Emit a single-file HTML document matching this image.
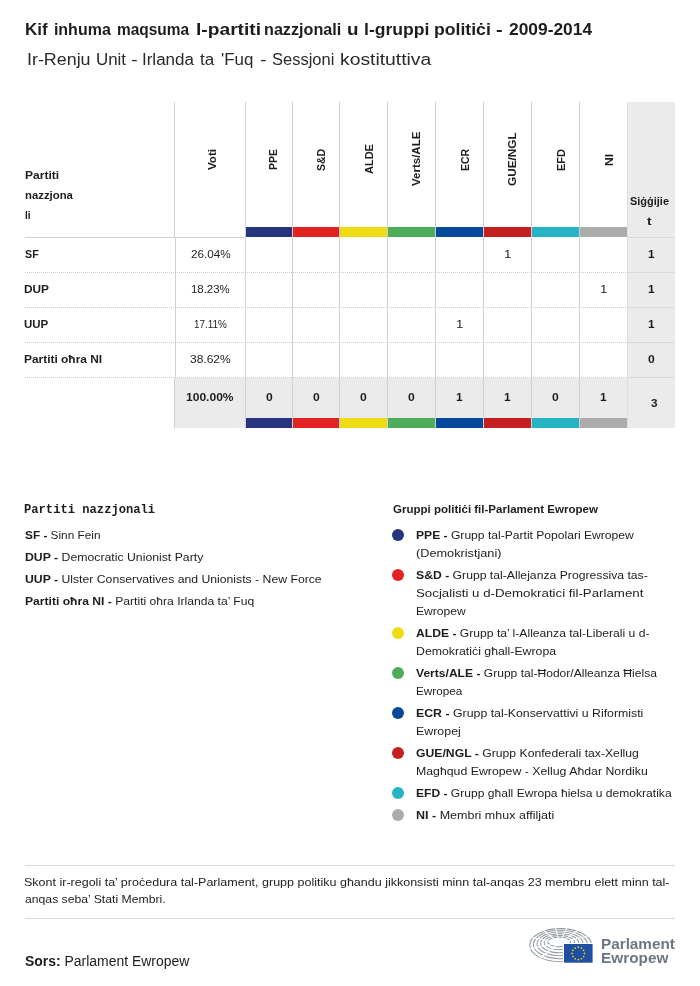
<!DOCTYPE html>
<html><head><meta charset="utf-8"><title>Parlament Ewropew</title>
<style>
html,body{margin:0;padding:0;background:#fff;}
body{width:700px;height:986px;position:relative;overflow:hidden;font-family:"Liberation Sans",sans-serif;color:#1d1d1b;}
.a{position:absolute;white-space:nowrap;}
.t{position:absolute;white-space:nowrap;line-height:20px;transform-origin:0 0;}
.vl{position:absolute;width:1px;background:#d2d2d2;}
.hl{position:absolute;height:1px;background:#d2d2d2;}
.dl{position:absolute;height:1px;background-image:linear-gradient(to right,#c9c9c9 50%,rgba(255,255,255,0) 50%);background-size:2px 1px;}
.dot{position:absolute;width:12px;height:12px;border-radius:50%;}
#w{position:absolute;left:0;top:0;width:700px;height:986px;will-change:transform;}
</style></head><body><div id="w">
<div class="a" style="left:627px;top:102px;width:48px;height:326px;background:#ebebeb;"></div>
<div class="a" style="left:174px;top:378px;width:453px;height:50px;background:#ebebeb;"></div>
<div class="vl" style="left:174px;top:102px;height:136px;"></div>
<div class="vl" style="left:175px;top:238px;height:140px;"></div>
<div class="vl" style="left:174px;top:378px;height:50px;"></div>
<div class="vl" style="left:245px;top:102px;height:326px;"></div>
<div class="vl" style="left:292px;top:102px;height:326px;"></div>
<div class="vl" style="left:339px;top:102px;height:326px;"></div>
<div class="vl" style="left:387px;top:102px;height:326px;"></div>
<div class="vl" style="left:435px;top:102px;height:326px;"></div>
<div class="vl" style="left:483px;top:102px;height:326px;"></div>
<div class="vl" style="left:531px;top:102px;height:326px;"></div>
<div class="vl" style="left:579px;top:102px;height:326px;"></div>
<div class="vl" style="left:627px;top:102px;height:326px;background:#dedede;"></div>
<div class="hl" style="left:25px;top:237px;width:221px;"></div>
<div class="hl" style="left:627px;top:237px;width:48px;background:#d8d8d8;"></div>
<div class="dl" style="left:25px;top:272px;width:602px;"></div>
<div class="hl" style="left:627px;top:272px;width:48px;background:#d8d8d8;"></div>
<div class="dl" style="left:25px;top:307px;width:602px;"></div>
<div class="hl" style="left:627px;top:307px;width:48px;background:#d8d8d8;"></div>
<div class="dl" style="left:25px;top:342px;width:602px;"></div>
<div class="hl" style="left:627px;top:342px;width:48px;background:#d8d8d8;"></div>
<div class="dl" style="left:25px;top:377px;width:602px;"></div>
<div class="hl" style="left:627px;top:377px;width:48px;background:#d8d8d8;"></div>
<div class="a" style="left:246px;top:227px;width:46px;height:10px;background:#27347f;"></div>
<div class="a" style="left:246px;top:418px;width:46px;height:10px;background:#27347f;"></div>
<div class="a" style="left:293px;top:227px;width:46px;height:10px;background:#e32322;"></div>
<div class="a" style="left:293px;top:418px;width:46px;height:10px;background:#e32322;"></div>
<div class="a" style="left:340px;top:227px;width:47px;height:10px;background:#f0dc14;"></div>
<div class="a" style="left:340px;top:418px;width:47px;height:10px;background:#f0dc14;"></div>
<div class="a" style="left:388px;top:227px;width:47px;height:10px;background:#4ead5b;"></div>
<div class="a" style="left:388px;top:418px;width:47px;height:10px;background:#4ead5b;"></div>
<div class="a" style="left:436px;top:227px;width:47px;height:10px;background:#05489c;"></div>
<div class="a" style="left:436px;top:418px;width:47px;height:10px;background:#05489c;"></div>
<div class="a" style="left:484px;top:227px;width:47px;height:10px;background:#c3201f;"></div>
<div class="a" style="left:484px;top:418px;width:47px;height:10px;background:#c3201f;"></div>
<div class="a" style="left:532px;top:227px;width:47px;height:10px;background:#25b4c5;"></div>
<div class="a" style="left:532px;top:418px;width:47px;height:10px;background:#25b4c5;"></div>
<div class="a" style="left:580px;top:227px;width:47px;height:10px;background:#acacac;"></div>
<div class="a" style="left:580px;top:418px;width:47px;height:10px;background:#acacac;"></div>
<div class="t" style="left:25.24px;top:19.66px;font-size:16px;transform:scaleX(1.0619);font-weight:bold;">Kif</div>
<div class="t" style="left:53.90px;top:19.66px;font-size:16px;transform:scaleX(1.0000);font-weight:bold;">inhuma</div>
<div class="t" style="left:116.74px;top:19.66px;font-size:16px;transform:scaleX(0.9649);font-weight:bold;">maqsuma</div>
<div class="t" style="left:195.50px;top:19.66px;font-size:16px;transform:scaleX(1.2000);font-weight:bold;">l-partiti</div>
<div class="t" style="left:264.09px;top:19.66px;font-size:16px;transform:scaleX(1.0107);font-weight:bold;">nazzjonali</div>
<div class="t" style="left:346.52px;top:19.66px;font-size:16px;transform:scaleX(1.1750);font-weight:bold;">u</div>
<div class="t" style="left:363.80px;top:19.66px;font-size:16px;transform:scaleX(1.0983);font-weight:bold;">l-gruppi</div>
<div class="t" style="left:433.80px;top:19.66px;font-size:16px;transform:scaleX(1.1020);font-weight:bold;">politiċi</div>
<div class="t" style="left:495.85px;top:19.66px;font-size:16px;transform:scaleX(1.2500);font-weight:bold;">-</div>
<div class="t" style="left:508.60px;top:19.66px;font-size:16px;transform:scaleX(1.0857);font-weight:bold;">2009-2014</div>
<div class="t" style="left:27.48px;top:49.86px;font-size:16px;transform:scaleX(1.1164);color:#2a2a2a;">Ir-Renju</div>
<div class="t" style="left:95.54px;top:49.86px;font-size:16px;transform:scaleX(1.0556);color:#2a2a2a;">Unit</div>
<div class="t" style="left:130.75px;top:49.86px;font-size:16px;transform:scaleX(1.2500);color:#2a2a2a;">-</div>
<div class="t" style="left:142.34px;top:49.86px;font-size:16px;transform:scaleX(1.0604);color:#2a2a2a;">Irlanda</div>
<div class="t" style="left:200.00px;top:49.86px;font-size:16px;transform:scaleX(1.0643);color:#2a2a2a;">ta</div>
<div class="t" style="left:221.24px;top:49.86px;font-size:16px;transform:scaleX(1.0552);color:#2a2a2a;">'Fuq</div>
<div class="t" style="left:259.65px;top:49.86px;font-size:16px;transform:scaleX(1.2500);color:#2a2a2a;">-</div>
<div class="t" style="left:271.87px;top:49.86px;font-size:16px;transform:scaleX(1.0305);color:#2a2a2a;">Sessjoni</div>
<div class="t" style="left:339.69px;top:49.86px;font-size:16px;transform:scaleX(1.2067);color:#2a2a2a;">kostituttiva</div>
<div class="t" style="left:24.51px;top:165.19px;font-size:11px;transform:scaleX(1.0933);font-weight:bold;">Partiti</div>
<div class="t" style="left:24.57px;top:185.19px;font-size:11px;transform:scaleX(1.0304);font-weight:bold;">nazzjona</div>
<div class="t" style="left:24.68px;top:205.19px;font-size:11px;transform:scaleX(0.9200);font-weight:bold;">li</div>
<div class="t" style="left:630.30px;top:190.79px;font-size:11px;transform:scaleX(0.9974);font-weight:bold;">Siġġijie</div>
<div class="t" style="left:647.00px;top:210.79px;font-size:11px;transform:scaleX(1.2500);font-weight:bold;">t</div>
<div class="t" style="left:25.30px;top:243.89px;font-size:11px;transform:scaleX(0.9714);font-weight:bold;">SF</div>
<div class="t" style="left:190.90px;top:243.89px;font-size:11px;transform:scaleX(1.0649);">26.04%</div>
<div class="t" style="left:503.80px;top:243.89px;font-size:11px;transform:scaleX(1.2000);">1</div>
<div class="t" style="left:647.52px;top:243.89px;font-size:11px;transform:scaleX(1.0800);font-weight:bold;">1</div>
<div class="t" style="left:24.22px;top:278.89px;font-size:11px;transform:scaleX(1.0773);font-weight:bold;">DUP</div>
<div class="t" style="left:190.96px;top:278.89px;font-size:11px;transform:scaleX(1.0361);">18.23%</div>
<div class="t" style="left:599.80px;top:278.89px;font-size:11px;transform:scaleX(1.2000);">1</div>
<div class="t" style="left:647.52px;top:278.89px;font-size:11px;transform:scaleX(1.0800);font-weight:bold;">1</div>
<div class="t" style="left:24.25px;top:313.89px;font-size:11px;transform:scaleX(1.0455);font-weight:bold;">UUP</div>
<div class="t" style="left:193.90px;top:313.89px;font-size:11px;transform:scaleX(0.9029);">17.11%</div>
<div class="t" style="left:455.80px;top:313.89px;font-size:11px;transform:scaleX(1.2000);">1</div>
<div class="t" style="left:647.52px;top:313.89px;font-size:11px;transform:scaleX(1.0800);font-weight:bold;">1</div>
<div class="t" style="left:24.22px;top:348.89px;font-size:11px;transform:scaleX(1.0831);font-weight:bold;">Partiti oħra NI</div>
<div class="t" style="left:189.91px;top:348.89px;font-size:11px;transform:scaleX(1.0917);">38.62%</div>
<div class="t" style="left:648.00px;top:348.89px;font-size:11px;transform:scaleX(1.1000);font-weight:bold;">0</div>
<div class="t" style="left:185.90px;top:387.49px;font-size:11px;transform:scaleX(1.0952);font-weight:bold;">100.00%</div>
<div class="t" style="left:265.70px;top:387.49px;font-size:11px;transform:scaleX(1.1000);font-weight:bold;">0</div>
<div class="t" style="left:312.70px;top:387.49px;font-size:11px;transform:scaleX(1.1000);font-weight:bold;">0</div>
<div class="t" style="left:360.20px;top:387.49px;font-size:11px;transform:scaleX(1.1000);font-weight:bold;">0</div>
<div class="t" style="left:408.20px;top:387.49px;font-size:11px;transform:scaleX(1.1000);font-weight:bold;">0</div>
<div class="t" style="left:455.72px;top:387.49px;font-size:11px;transform:scaleX(1.0800);font-weight:bold;">1</div>
<div class="t" style="left:503.72px;top:387.49px;font-size:11px;transform:scaleX(1.0800);font-weight:bold;">1</div>
<div class="t" style="left:552.20px;top:387.49px;font-size:11px;transform:scaleX(1.1000);font-weight:bold;">0</div>
<div class="t" style="left:599.72px;top:387.49px;font-size:11px;transform:scaleX(1.0800);font-weight:bold;">1</div>
<div class="t" style="left:651.00px;top:392.59px;font-size:11px;transform:scaleX(1.0667);font-weight:bold;">3</div>
<div class="t" style="left:24.49px;top:499.59px;font-size:12px;transform:scaleX(1.0117);font-weight:bold;font-family:'Liberation Mono',monospace;">Partiti nazzjonali</div>
<div class="t" style="left:24.90px;top:524.83px;font-size:11.3px;transform:scaleX(1.0458);"><b>SF -</b> Sinn Fein</div>
<div class="t" style="left:24.51px;top:546.83px;font-size:11.3px;transform:scaleX(1.0853);"><b>DUP -</b> Democratic Unionist Party</div>
<div class="t" style="left:24.52px;top:568.83px;font-size:11.3px;transform:scaleX(1.0821);"><b>UUP -</b> Ulster Conservatives and Unionists - New Force</div>
<div class="t" style="left:24.53px;top:590.83px;font-size:11.3px;transform:scaleX(1.0726);"><b>Partiti oħra NI -</b> Partiti oħra Irlanda ta’ Fuq</div>
<div class="t" style="left:392.50px;top:499.08px;font-size:11.3px;transform:scaleX(1.0199);font-weight:bold;">Gruppi politiċi fil-Parlament Ewropew</div>
<div class="t" style="left:415.63px;top:524.83px;font-size:11.3px;transform:scaleX(1.0704);"><b>PPE -</b> Grupp tal-Partit Popolari Ewropew</div>
<div class="t" style="left:415.57px;top:542.83px;font-size:11.3px;transform:scaleX(1.1257);">(Demokristjani)</div>
<div class="t" style="left:416.00px;top:564.83px;font-size:11.3px;transform:scaleX(1.0794);"><b>S&amp;D -</b> Grupp tal-Allejanza Progressiva tas-</div>
<div class="t" style="left:415.52px;top:582.83px;font-size:11.3px;transform:scaleX(1.1760);">Socjalisti u d-Demokratici fil-Parlament</div>
<div class="t" style="left:415.63px;top:600.83px;font-size:11.3px;transform:scaleX(1.0717);">Ewropew</div>
<div class="t" style="left:416.00px;top:622.83px;font-size:11.3px;transform:scaleX(1.0737);"><b>ALDE -</b> Grupp ta’ l-Alleanza tal-Liberali u d-</div>
<div class="t" style="left:415.61px;top:640.83px;font-size:11.3px;transform:scaleX(1.0883);">Demokratiċi għall-Ewropa</div>
<div class="t" style="left:416.00px;top:662.83px;font-size:11.3px;transform:scaleX(1.0686);"><b>Verts/ALE -</b> Grupp tal-Ħodor/Alleanza Ħielsa</div>
<div class="t" style="left:415.66px;top:680.83px;font-size:11.3px;transform:scaleX(1.0409);">Ewropea</div>
<div class="t" style="left:415.61px;top:702.83px;font-size:11.3px;transform:scaleX(1.0908);"><b>ECR -</b> Grupp tal-Konservattivi u Riformisti</div>
<div class="t" style="left:415.60px;top:720.83px;font-size:11.3px;transform:scaleX(1.0974);">Ewropej</div>
<div class="t" style="left:416.00px;top:742.83px;font-size:11.3px;transform:scaleX(1.0801);"><b>GUE/NGL -</b> Grupp Konfederali tax-Xellug</div>
<div class="t" style="left:415.61px;top:760.83px;font-size:11.3px;transform:scaleX(1.0891);">Magħqud Ewropew - Xellug Aħdar Nordiku</div>
<div class="t" style="left:415.63px;top:782.83px;font-size:11.3px;transform:scaleX(1.0685);"><b>EFD -</b> Grupp għall Ewropa ħielsa u demokratika</div>
<div class="t" style="left:415.59px;top:804.83px;font-size:11.3px;transform:scaleX(1.1081);"><b>NI -</b> Membri mhux affiljati</div>
<div class="t" style="left:24.39px;top:871.58px;font-size:11.3px;transform:scaleX(1.1074);">Skont ir-regoli ta’ proċedura tal-Parlament, grupp politiku għandu jikkonsisti minn tal-anqas 23 membru elett minn tal-</div>
<div class="t" style="left:25.00px;top:889.48px;font-size:11.3px;transform:scaleX(1.0798);">anqas seba’ Stati Membri.</div>
<div class="t" style="left:24.50px;top:950.65px;font-size:14px;transform:scaleX(0.9954);"><b>Sors:</b> Parlament Ewropew</div>
<div class="t" style="left:600.51px;top:933.75px;font-size:14px;transform:scaleX(1.0910);font-weight:bold;color:#6c7782;">Parlament</div>
<div class="t" style="left:600.50px;top:948.45px;font-size:14px;transform:scaleX(1.0984);font-weight:bold;color:#6c7782;">Ewropew</div>
<div class="t" style="left:202.19px;top:170.00px;font-size:11px;font-weight:bold;transform:rotate(-90deg) scaleX(1.0500);">Voti</div>
<div class="t" style="left:263.19px;top:169.55px;font-size:11px;font-weight:bold;transform:rotate(-90deg) scaleX(0.9524);">PPE</div>
<div class="t" style="left:310.59px;top:171.00px;font-size:11px;font-weight:bold;transform:rotate(-90deg) scaleX(0.9565);">S&amp;D</div>
<div class="t" style="left:358.59px;top:174.00px;font-size:11px;font-weight:bold;transform:rotate(-90deg) scaleX(1.0000);">ALDE</div>
<div class="t" style="left:406.49px;top:186.40px;font-size:11px;font-weight:bold;transform:rotate(-90deg) scaleX(1.0462);">Verts/ALE</div>
<div class="t" style="left:454.59px;top:170.95px;font-size:11px;font-weight:bold;transform:rotate(-90deg) scaleX(0.9545);">ECR</div>
<div class="t" style="left:502.39px;top:186.00px;font-size:11px;font-weight:bold;transform:rotate(-90deg) scaleX(1.0720);">GUE/NGL</div>
<div class="t" style="left:550.59px;top:171.00px;font-size:11px;font-weight:bold;transform:rotate(-90deg) scaleX(1.0000);">EFD</div>
<div class="t" style="left:598.59px;top:166.10px;font-size:11px;font-weight:bold;transform:rotate(-90deg) scaleX(1.1000);">NI</div>
<div class="dot" style="left:392px;top:529.25px;background:#27347f;"></div>
<div class="dot" style="left:392px;top:569.25px;background:#e32322;"></div>
<div class="dot" style="left:392px;top:627.25px;background:#f0dc14;"></div>
<div class="dot" style="left:392px;top:667.25px;background:#4ead5b;"></div>
<div class="dot" style="left:392px;top:707.25px;background:#05489c;"></div>
<div class="dot" style="left:392px;top:747.25px;background:#c3201f;"></div>
<div class="dot" style="left:392px;top:787.25px;background:#25b4c5;"></div>
<div class="dot" style="left:392px;top:809.25px;background:#acacac;"></div>
<div class="hl" style="left:25px;top:865px;width:650px;background:#d8d8d8;"></div>
<div class="hl" style="left:25px;top:918px;width:650px;background:#d8d8d8;"></div>
<svg class="a" style="left:525px;top:922px;" width="75" height="48" viewBox="525 922 75 48">
<g fill="none" stroke="#939ba3" stroke-width="1.05">
<ellipse cx="560.65" cy="945.15" rx="30.85" ry="16.55"/>
<ellipse cx="560.35" cy="944.50" rx="26.95" ry="14.20"/>
<ellipse cx="560.05" cy="943.85" rx="23.05" ry="11.85"/>
<ellipse cx="559.75" cy="943.20" rx="19.15" ry="9.50"/>
<ellipse cx="559.45" cy="942.55" rx="15.25" ry="7.15"/>
<ellipse cx="559.15" cy="941.90" rx="11.35" ry="4.80"/>
</g>
<g stroke="#fff" stroke-width="1.1">
<line x1="553.9" y1="942.0" x2="521.9" y2="935.5"/>
<line x1="556.1" y1="940.5" x2="536.6" y2="925.0"/>
<line x1="558.7" y1="940.0" x2="553.9" y2="921.2"/>
<line x1="561.1" y1="940.1" x2="569.9" y2="921.7"/>
<line x1="563.2" y1="940.6" x2="584.1" y2="925.7"/>
<line x1="564.9" y1="941.7" x2="595.8" y2="933.7"/>
<line x1="553.9" y1="944.0" x2="521.9" y2="950.5"/>
<line x1="556.1" y1="945.5" x2="536.6" y2="961.0"/>
</g>
<rect x="563" y="943" width="37" height="27" fill="#fff"/>
<rect x="564" y="944" width="28.6" height="18.7" fill="#1f4fa0"/>
<circle cx="578.30" cy="947.20" r="0.85" fill="#f5d915"/>
<circle cx="581.40" cy="948.03" r="0.85" fill="#f5d915"/>
<circle cx="583.67" cy="950.30" r="0.85" fill="#f5d915"/>
<circle cx="584.50" cy="953.40" r="0.85" fill="#f5d915"/>
<circle cx="583.67" cy="956.50" r="0.85" fill="#f5d915"/>
<circle cx="581.40" cy="958.77" r="0.85" fill="#f5d915"/>
<circle cx="578.30" cy="959.60" r="0.85" fill="#f5d915"/>
<circle cx="575.20" cy="958.77" r="0.85" fill="#f5d915"/>
<circle cx="572.93" cy="956.50" r="0.85" fill="#f5d915"/>
<circle cx="572.10" cy="953.40" r="0.85" fill="#f5d915"/>
<circle cx="572.93" cy="950.30" r="0.85" fill="#f5d915"/>
<circle cx="575.20" cy="948.03" r="0.85" fill="#f5d915"/>
</svg>
</div></body></html>
